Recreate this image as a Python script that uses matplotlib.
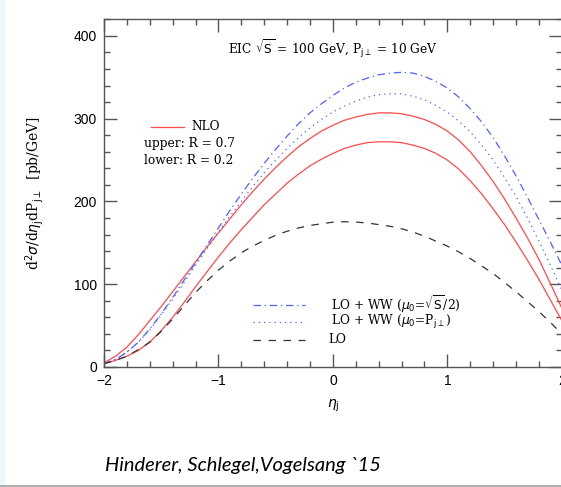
import matplotlib
matplotlib.use("Agg")
import matplotlib.pyplot as plt
from matplotlib.ticker import MultipleLocator, FixedLocator
from matplotlib.patches import Rectangle
from matplotlib.lines import Line2D

# ---- data ----
eta = [-2.0, -1.9, -1.8, -1.7, -1.6, -1.5, -1.4, -1.3, -1.2, -1.1, -1.0,
       -0.9, -0.8, -0.7, -0.6, -0.5, -0.4, -0.3, -0.2, -0.1, 0.0,
       0.1, 0.2, 0.3, 0.4, 0.5, 0.6, 0.7, 0.8, 0.9, 1.0,
       1.1, 1.2, 1.3, 1.4, 1.5, 1.6, 1.7, 1.8, 1.9, 2.0]
nlo_upper = [5, 13, 24, 39, 56, 73, 91, 109, 127, 145, 162,
             179, 196, 212, 227, 241, 254, 266, 276, 285, 292,
             298, 302, 305, 307, 307, 306, 303, 299, 293, 285,
             274, 260, 243, 224, 203, 180, 156, 130, 101, 71]
nlo_lower = [4, 8, 13, 20, 30, 44, 60, 78, 97, 115, 133,
             150, 166, 181, 196, 209, 222, 233, 243, 251, 258,
             264, 268, 271, 272, 272, 271, 268, 264, 258, 250,
             239, 225, 209, 191, 172, 151, 129, 106, 81, 56]
lo_ww_sqrts = [4, 9, 18, 30, 46, 64, 84, 105, 126, 147, 168,
               189, 209, 228, 246, 263, 279, 294, 307, 318, 328,
               337, 344, 349, 353, 355, 356, 355, 351, 345, 337,
               326, 312, 296, 277, 255, 231, 205, 178, 151, 123]
lo_ww_pj = [4, 9, 18, 30, 45, 63, 82, 102, 123, 143, 163,
            182, 200, 218, 235, 250, 264, 277, 289, 299, 308,
            315, 321, 326, 329, 330, 330, 327, 323, 316, 308,
            297, 284, 268, 250, 229, 206, 180, 152, 123, 93]
lo = [4, 8, 13, 21, 30, 43, 58, 74, 90, 104, 117,
      128, 138, 146, 153, 159, 164, 168, 171, 173, 175,
      175.5, 175, 174, 172, 170, 167, 163, 158, 152, 146,
      139, 131, 122, 113, 102, 91, 79, 67, 54, 40]

x_ticks = [-2, -1, 0, 1, 2]
x_ticklabels = ["\u22122", "\u22121", "0", "1", "2"]
y_ticks = [0, 100, 200, 300, 400]

W, H = 561, 487
fig = plt.figure(figsize=(W / 100, H / 100), dpi=100)

# slide decorations
fig.patches.append(Rectangle((0, 0), 4 / W, 1, transform=fig.transFigure,
                             color="#eaf6fa", zorder=0))
fig.lines.append(Line2D([0, 1], [1 - 485.5 / H] * 2, transform=fig.transFigure,
                        color="#a0a0a0", lw=1.2))

left, right = 104 / W, 561.8 / W
bottom, top = 1 - 367 / H, 1 - 19.3 / H
ax = fig.add_axes([left, bottom, right - left, top - bottom])
ax.set_xlim(-2, 2)
ax.set_ylim(0, 420)

red = "#ff4a4a"
blue = "#4f62ff"
lw = 0.9
ax.plot(eta, nlo_upper, color=red, lw=lw)
ax.plot(eta, nlo_lower, color=red, lw=lw)
ax.plot(eta, lo_ww_sqrts, color=blue, lw=lw, dashes=(6, 3, 1, 3))
ax.plot(eta, lo_ww_pj, color=blue, lw=lw, dashes=(1, 3.2))
ax.plot(eta, lo, color="#333333", lw=lw, dashes=(6, 6))

for s in ax.spines.values():
    s.set_color("#555555")
    s.set_linewidth(1.0)

ax.xaxis.set_major_locator(FixedLocator(x_ticks))
ax.set_xticklabels(x_ticklabels)
ax.xaxis.set_minor_locator(MultipleLocator(0.2))
ax.yaxis.set_major_locator(FixedLocator(y_ticks))
ax.yaxis.set_minor_locator(MultipleLocator(20))
ax.tick_params(which="both", direction="in", top=True, right=True,
               color="#555555", width=1.0)
ax.tick_params(which="major", length=9.5, labelsize=10, pad=5)
ax.tick_params(which="minor", length=4.5)
for lab in ax.get_xticklabels() + ax.get_yticklabels():
    lab.set_family("Liberation Sans")

serif = "DejaVu Serif"
fs = 8.8
ax.set_xlabel(r"$\eta_{\rm j}$", fontsize=10, labelpad=7)
ax.set_ylabel(r"d$^2\sigma$/d$\eta_{\rm j}$dP$_{\rm j\perp}$  [pb/GeV]",
              fontsize=10, family=serif, labelpad=20)

ax.text(0.0, 385, r"EIC $\sqrt{\rm S}$ = 100 GeV, P$_{\rm j\perp}$ = 10 GeV",
        fontsize=fs, family=serif, ha="center", va="center")

# NLO legend block
ax.plot([-1.59, -1.30], [290, 290], color=red, lw=lw)
ax.text(-1.24, 290, "NLO", fontsize=fs, family=serif, va="center")
ax.text(-1.65, 270, "upper: R = 0.7", fontsize=fs, family=serif, va="center")
ax.text(-1.65, 250, "lower: R = 0.2", fontsize=fs, family=serif, va="center")

# lower legend block
ax.plot([-0.70, -0.24], [75, 75], color=blue, lw=lw, dashes=(6, 3, 1, 3))
ax.plot([-0.70, -0.24], [54, 54], color=blue, lw=lw, dashes=(1, 3.2))
ax.plot([-0.70, -0.24], [33, 33], color="#333333", lw=lw, dashes=(6, 6))
ax.text(-0.02, 76, r"LO + WW ($\mu_0$=$\sqrt{\rm S}$/2)", fontsize=fs,
        family=serif, va="center")
ax.text(-0.02, 54, r"LO + WW ($\mu_0$=P$_{\rm j\perp}$)", fontsize=fs,
        family=serif, va="center")
ax.text(-0.04, 33, "LO", fontsize=fs, family=serif, va="center")

fig.text(105 / W, 1 - 465 / H, "Hinderer, Schlegel,Vogelsang `15",
         fontsize=14.5, family="Lato", style="italic", va="center", ha="left")

fig.savefig("out.png", dpi=100)
